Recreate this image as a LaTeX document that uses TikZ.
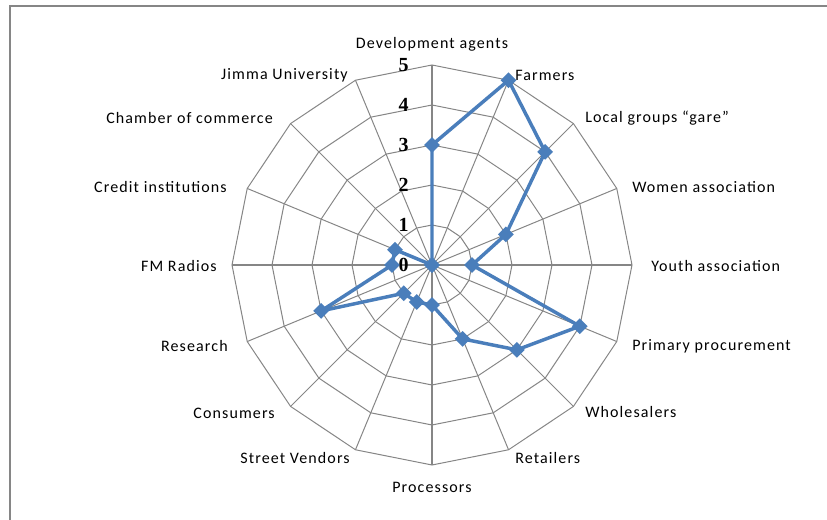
\documentclass[tikz,border=0pt]{standalone}
\usepackage{fontspec}
\setmainfont{Carlito}[LetterSpace=7]
\newfontfamily\numfont{Liberation Serif}
\usetikzlibrary{shapes.geometric}
\definecolor{serblue}{RGB}{74,126,187}
\definecolor{gridgray}{RGB}{134,134,134}

\begin{document}
\begin{tikzpicture}[x=0.75pt,y=0.75pt,
  grid/.style={color=gridgray, line width=0.75pt},
  lbl/.style={font=\fontsize{12}{14}\selectfont, inner sep=0pt},
  val/.style={font=\fontsize{15}{17}\selectfont\numfont\bfseries, anchor=east, inner sep=0pt},
  dot/.style={diamond, fill=serblue, inner sep=0pt, minimum size=12pt}]
\useasboundingbox (-432,-255) rectangle (395,265);

%frame
\draw[gridgray, line width=1.1pt] (-422,-260) -- (-422,259) -- (400,259);

\foreach \r in {40,80,...,200}
	\draw[grid] (90:\r) \foreach \a in {1,...,15} { -- ({90-22.5*\a}:\r) } -- cycle;

\foreach \a in {0,...,15}
	\draw[grid] (0,0) -- ({90-22.5*\a}:200);
\draw[grid, line width=1.3pt] (-200,0) -- (200,0);
\draw[grid, line width=1.3pt] (0,-200) -- (0,200);

\foreach \v in {0,...,5}
	\node[val] (v\v) at (-23,40*\v) {\v};

\foreach \nm/\x/\y/\anc/\txt in {
	dev/0/221/center/Development agents,
	farm/83/190/west/Farmers,
	loc/153/147/west/Local groups ``gare'',
	wom/200/78/west/Women association,
	youth/219/-1/west/Youth association,
	prim/200/-81/west/Primary procurement,
	whole/153/-147/west/Wholesalers,
	ret/83/-193/west/Retailers,
	proc/0/-222/center/Processors,
	street/-82/-193/east/Street Vendors,
	cons/-157/-148/east/Consumers,
	res/-204/-81/east/Research,
	fm/-215/-1/east/FM Radios,
	cred/-205/78/east/Credit institutions,
	cham/-159/147/east/Chamber of commerce,
	jimma/-84/190/east/Jimma University}
	\node[lbl, anchor=\anc] (\nm) at (\x,\y) {\txt};

\foreach \v [count=\i] in {3,5,4,2,1,4,3,2,1,1,1,3,1,1,0,0}
	\coordinate (p\i) at ({90-22.5*(\i-1)}:40*\v);

\draw[serblue, line width=2.6pt, line join=round] (p1) \foreach \i in {2,...,16} { -- (p\i) } -- cycle;

\foreach \i in {1,...,16}
	\node[dot] (m\i) at (p\i) {};

\end{tikzpicture}
\end{document}
